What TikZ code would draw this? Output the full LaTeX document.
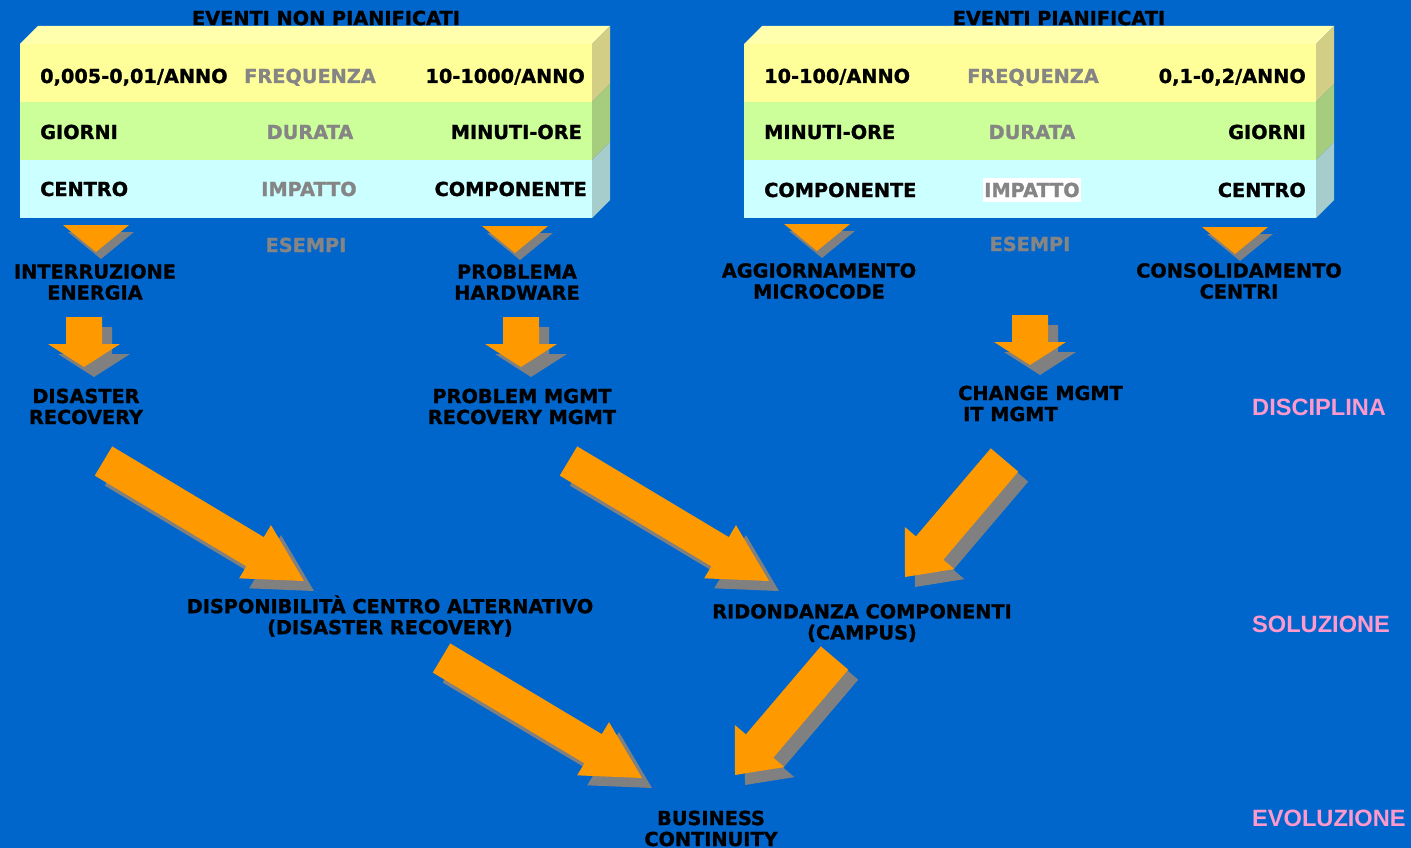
\documentclass[tikz,border=0pt]{standalone}
\usepackage{fontspec}
\setmainfont{DejaVu Sans}[BoldFeatures={FakeBold=1.2}]
\newfontfamily\labelfont{Liberation Sans}
\usetikzlibrary{calc}

\definecolor{bgblue}{HTML}{0066CC}
\definecolor{arroworange}{HTML}{FF9900}
\definecolor{shadowgray}{HTML}{808080}
\definecolor{labelgray}{HTML}{858585}
\definecolor{pinklab}{HTML}{FF99CC}
\definecolor{rowyellow}{HTML}{FFFF99}
\definecolor{topyellow}{HTML}{FFFFAD}
\definecolor{sideyellow}{HTML}{D2CE86}
\definecolor{rowgreen}{HTML}{CCFF99}
\definecolor{sidegreen}{HTML}{A6CC7E}
\definecolor{rowcyan}{HTML}{CCFFFF}
\definecolor{sidecyan}{HTML}{A6CCCC}

% block arrow from a tail-centre coordinate to a tip coordinate,
% with its grey drop shadow: #3 shaft width, #4 head width, #5 head length
\newcommand\blockarrow[5]{%
  \path let \p1=(#1), \p2=(#2) in \pgfextra{%
    \pgfmathsetmacro\baAngTmp{atan2(\y2-\y1,\x2-\x1)}%
    \pgfmathsetmacro\baLenTmp{veclen(\x2-\x1,\y2-\y1)}%
    \xdef\baAng{\baAngTmp}\xdef\baLen{\baLenTmp}};
  \foreach \dx/\dy/\col in {10/-10/shadowgray, 0/0/arroworange}{%
    \begin{scope}[shift={(#1)}, xshift=\dx pt, yshift=\dy pt, rotate=\baAng]
      \fill[\col] (0,-#3/2) -- (\baLen-#5,-#3/2) -- (\baLen-#5,-#4/2)
        -- (\baLen,0) -- (\baLen-#5,#4/2) -- (\baLen-#5,#3/2) -- (0,#3/2) -- cycle;
    \end{scope}}%
}
% small downward triangle with its shadow, top centre at #1
\newcommand\downtri[1]{%
  \fill[shadowgray] ($(#1)+(-28,7)$) -- ($(#1)+(38,7)$) -- ($(#1)+(5,34)$) -- cycle;
  \fill[arroworange] ($(#1)+(-33,0)$) -- ($(#1)+(33,0)$) -- ($(#1)+(0,27)$) -- cycle;
}
% three-band box with top and right faces; #1 = x of front left edge
\newcommand\eventbox[1]{%
  \begin{scope}[xshift=#1pt]
    \fill[topyellow] (0,44) -- (18,26) -- (590,26) -- (572,44) -- cycle;
    \fill[rowyellow] (0,44) rectangle (572,102);
    \fill[rowgreen] (0,102) rectangle (572,160);
    \fill[rowcyan] (0,160) rectangle (572,218);
    \fill[sideyellow] (572,44) -- (590,26) -- (590,84) -- (572,102) -- cycle;
    \fill[sidegreen] (572,102) -- (590,84) -- (590,142) -- (572,160) -- cycle;
    \fill[sidecyan] (572,160) -- (590,142) -- (590,200) -- (572,218) -- cycle;
  \end{scope}
}

\tikzset{
  txt/.style={font=\bfseries\fontsize{19.3}{21}\selectfont, text=black, inner sep=0pt},
  one/.style={txt, text height=14pt, text depth=0pt},
  grey/.style={one, text=labelgray},
  two/.style={txt, align=center},
  band/.style={font=\labelfont\bfseries\fontsize{23.6}{25}\selectfont, text=pinklab,
    inner sep=0pt, anchor=west, text height=17pt, text depth=0pt},
}

\begin{document}
\begin{tikzpicture}[x=1pt, y=-1pt]
  \useasboundingbox (0,0) rectangle (1411,848);
  \fill[bgblue] (0,0) rectangle (1411,848);

  % the two event boxes
  \eventbox{20}
  \eventbox{744}

  \node[one] (tNP) at (326,18) {EVENTI NON PIANIFICATI};
  \node[one] (tP) at (1059,18) {EVENTI PIANIFICATI};

  % unplanned events
  \node[one, anchor=west] (l11) at (40,76) {0,005-0,01/ANNO};
  \node[grey] (l12) at (310,76) {FREQUENZA};
  \node[one, anchor=east] (l13) at (585,76) {10-1000/ANNO};
  \node[one, anchor=west] (l21) at (40,132) {GIORNI};
  \node[grey] (l22) at (310,132) {DURATA};
  \node[one, anchor=east] (l23) at (582,132) {MINUTI-ORE};
  \node[one, anchor=west] (l31) at (40,189) {CENTRO};
  \node[grey] (l32) at (309,189) {IMPATTO};
  \node[one, anchor=east] (l33) at (587,189) {COMPONENTE};

  % planned events
  \node[one, anchor=west] (r11) at (764,76) {10-100/ANNO};
  \node[grey] (r12) at (1033,76) {FREQUENZA};
  \node[one, anchor=east] (r13) at (1306,76) {0,1-0,2/ANNO};
  \node[one, anchor=west] (r21) at (764,132) {MINUTI-ORE};
  \node[grey] (r22) at (1032,132) {DURATA};
  \node[one, anchor=east] (r23) at (1306,132) {GIORNI};
  \node[one, anchor=west] (r31) at (764,190) {COMPONENTE};
  \node[grey, fill=white, inner xsep=1pt, inner ysep=5pt] (r32) at (1032,190) {IMPATTO};
  \node[one, anchor=east] (r33) at (1306,190) {CENTRO};

  \node[grey] (esL) at (306,245) {ESEMPI};
  \node[grey] (esR) at (1030,244) {ESEMPI};

  % example markers
  \coordinate (m1) at (96,225);
  \coordinate (m2) at (515,226);
  \coordinate (m3) at (817,224);
  \coordinate (m4) at (1235,227);
  \downtri{m1}
  \downtri{m2}
  \downtri{m3}
  \downtri{m4}

  \node[two] (ex1) at (95,282) {INTERRUZIONE\\ENERGIA};
  \node[two] (ex2) at (517,282) {PROBLEMA\\HARDWARE};
  \node[two] (ex3) at (819,281) {AGGIORNAMENTO\\MICROCODE};
  \node[two] (ex4) at (1239,281) {CONSOLIDAMENTO\\CENTRI};

  % disciplines
  \coordinate (d1a) at (84,317);  \coordinate (d1b) at (84,367);
  \coordinate (d2a) at (521,317); \coordinate (d2b) at (521,367);
  \coordinate (d3a) at (1030,315); \coordinate (d3b) at (1030,365);
  \blockarrow{d1a}{d1b}{36}{72}{23}
  \blockarrow{d2a}{d2b}{36}{72}{23}
  \blockarrow{d3a}{d3b}{36}{72}{23}

  \node[two] (dr) at (86,406.5) {DISASTER\\RECOVERY};
  \node[two] (pm) at (522,406.5) {PROBLEM MGMT\\RECOVERY MGMT};
  \node[two, align=left, anchor=west] (cm) at (958,403.5) {CHANGE MGMT\\\hspace*{5pt}IT MGMT};

  % solutions
  \coordinate (s1a) at (103.5,461); \coordinate (s1b) at (304,581);
  \coordinate (s2a) at (568.5,461); \coordinate (s2b) at (769,581);
  \coordinate (s3a) at (1004.5,460); \coordinate (s3b) at (905,577);
  \blockarrow{s1a}{s1b}{34}{62}{57}
  \blockarrow{s2a}{s2b}{34}{62}{57}
  \blockarrow{s3a}{s3b}{36}{65}{38}

  \node[two] (alt) at (390,616) {DISPONIBILITÀ CENTRO ALTERNATIVO\\(DISASTER RECOVERY)};
  \node[two] (camp) at (862,623) {RIDONDANZA COMPONENTI\\(CAMPUS)};

  % evolution
  \coordinate (e1a) at (441.5,658); \coordinate (e1b) at (642,778);
  \coordinate (e2a) at (834.5,658); \coordinate (e2b) at (735,775);
  \blockarrow{e1a}{e1b}{34}{62}{57}
  \blockarrow{e2a}{e2b}{36}{65}{38}

  \node[two] (bc) at (711,828.5) {BUSINESS\\CONTINUITY};

  % level labels
  \node[band] (lv1) at (1252,407) {DISCIPLINA};
  \node[band] (lv2) at (1252,624) {SOLUZIONE};
  \node[band] (lv3) at (1252,818) {EVOLUZIONE};
\end{tikzpicture}
\end{document}
